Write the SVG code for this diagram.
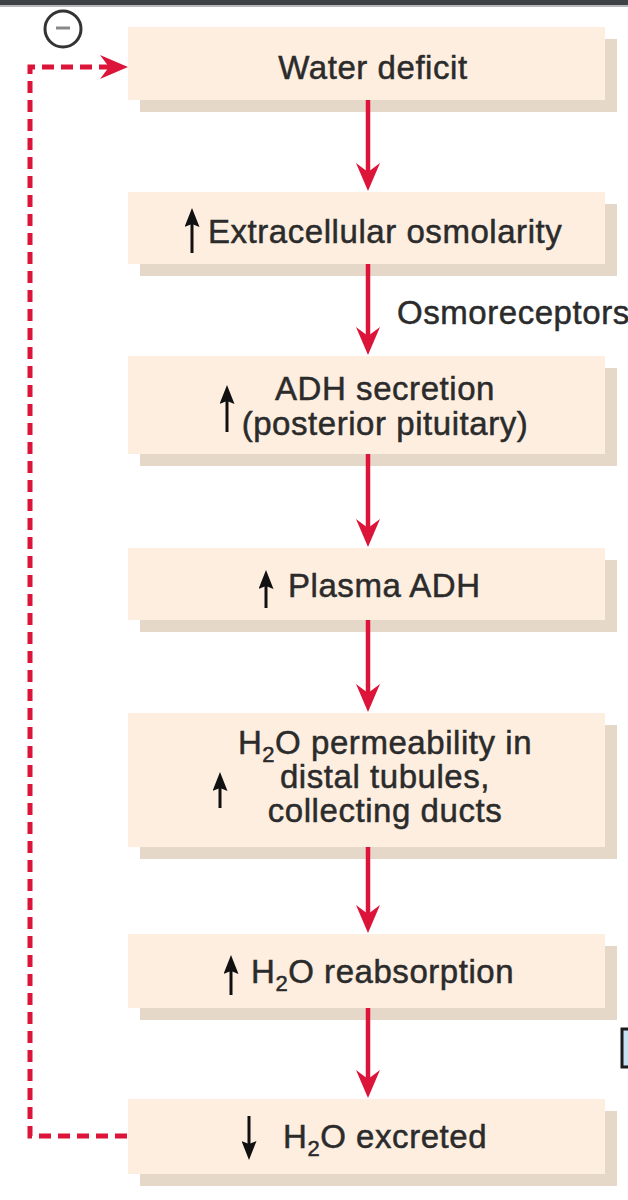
<svg xmlns="http://www.w3.org/2000/svg" width="628" height="1200" viewBox="0 0 628 1200">
<style>
.box{fill:#fdeee0}
.shadow{fill:#e6d8c9}
.t{font-family:"Liberation Sans",Arial,Helvetica,sans-serif;font-size:33px;fill:#2b2b2b;stroke:#2b2b2b;stroke-width:0.5px;letter-spacing:0.55px}
.c{text-anchor:middle}
.sub{font-size:22px}
.red{stroke:#dd1439;stroke-width:4.5;fill:none}
.dash{stroke:#dd1439;stroke-width:5;fill:none;stroke-dasharray:12 7}
.blk{stroke:#111;stroke-width:3;fill:none}
</style>
<defs>
<marker id="ra" viewBox="0 0 28 24" refX="9" refY="12" markerWidth="28" markerHeight="24" orient="auto" markerUnits="userSpaceOnUse">
<path d="M0,0 L28,12 L0,24 L9,12 Z" fill="#dd1439"/>
</marker>
<marker id="ba" viewBox="0 0 19 15" refX="3" refY="7.5" markerWidth="19" markerHeight="15" orient="auto" markerUnits="userSpaceOnUse">
<path d="M0,0 L19,7.5 L0,15 L3,7.5 Z" fill="#111"/>
</marker>
</defs>
<rect x="0" y="0" width="628" height="5" fill="#3e4246"/>
<rect x="0" y="5" width="628" height="2" fill="#b8b8b8"/>

<g id="minus">
<circle cx="63" cy="29" r="18" fill="#fff" stroke="#333" stroke-width="3"/>
<line x1="56" y1="28" x2="70" y2="28" stroke="#888" stroke-width="3"/>
</g>

<g id="n1">
<rect class="shadow" x="140" y="39" width="477" height="73"/>
<rect class="box" x="128" y="27" width="477" height="73"/>
<text class="t c" x="373" y="79">Water deficit</text>
</g>
<g id="n2">
<rect class="shadow" x="140" y="204" width="477" height="72"/>
<rect class="box" x="128" y="192" width="477" height="72"/>
<path class="blk" d="M192,253 V224" marker-end="url(#ba)"/>
<text class="t" x="208" y="243">Extracellular osmolarity</text>
</g>
<g id="n3">
<rect class="shadow" x="140" y="368" width="477" height="98"/>
<rect class="box" x="128" y="356" width="477" height="98"/>
<path class="blk" d="M227,432 V401" marker-end="url(#ba)"/>
<text class="t c" x="385" y="400">ADH secretion</text>
<text class="t c" x="385" y="435">(posterior pituitary)</text>
</g>
<g id="n4">
<rect class="shadow" x="140" y="560" width="477" height="72"/>
<rect class="box" x="128" y="548" width="477" height="72"/>
<path class="blk" d="M266,608 V586" marker-end="url(#ba)"/>
<text class="t" x="288" y="597">Plasma ADH</text>
</g>
<g id="n5">
<rect class="shadow" x="140" y="725" width="477" height="134"/>
<rect class="box" x="128" y="713" width="477" height="134"/>
<path class="blk" d="M220,808 V788" marker-end="url(#ba)"/>
<text class="t c" x="385" y="754">H<tspan class="sub" dy="8">2</tspan><tspan dy="-8">O permeability in</tspan></text>
<text class="t c" x="385" y="788">distal tubules,</text>
<text class="t c" x="385" y="822">collecting ducts</text>
</g>
<g id="n6">
<rect class="shadow" x="140" y="946" width="477" height="74"/>
<rect class="box" x="128" y="934" width="477" height="74"/>
<path class="blk" d="M231,995 V971" marker-end="url(#ba)"/>
<text class="t" x="251" y="983">H<tspan class="sub" dy="8">2</tspan><tspan dy="-8">O reabsorption</tspan></text>
</g>
<g id="n7">
<rect class="shadow" x="140" y="1111" width="477" height="75"/>
<rect class="box" x="128" y="1099" width="477" height="75"/>
<path class="blk" d="M249,1116 V1144" marker-end="url(#ba)"/>
<text class="t" x="283" y="1148">H<tspan class="sub" dy="8">2</tspan><tspan dy="-8">O excreted</tspan></text>
</g>

<g id="connectors">
<path class="red" d="M368,100 V172" marker-end="url(#ra)"/>
<path class="red" d="M368,264 V336" marker-end="url(#ra)"/>
<path class="red" d="M368,454 V528" marker-end="url(#ra)"/>
<path class="red" d="M368,620 V693" marker-end="url(#ra)"/>
<path class="red" d="M368,847 V914" marker-end="url(#ra)"/>
<path class="red" d="M368,1008 V1079" marker-end="url(#ra)"/>
<path class="dash" d="M127,1136 H30 V67 H109" marker-end="url(#ra)"/>
<text class="t" x="397" y="324">Osmoreceptors</text>
</g>

<rect x="622" y="1029" width="12" height="38" fill="#c4e2f2" stroke="#1a1a1a" stroke-width="3"/>
</svg>
